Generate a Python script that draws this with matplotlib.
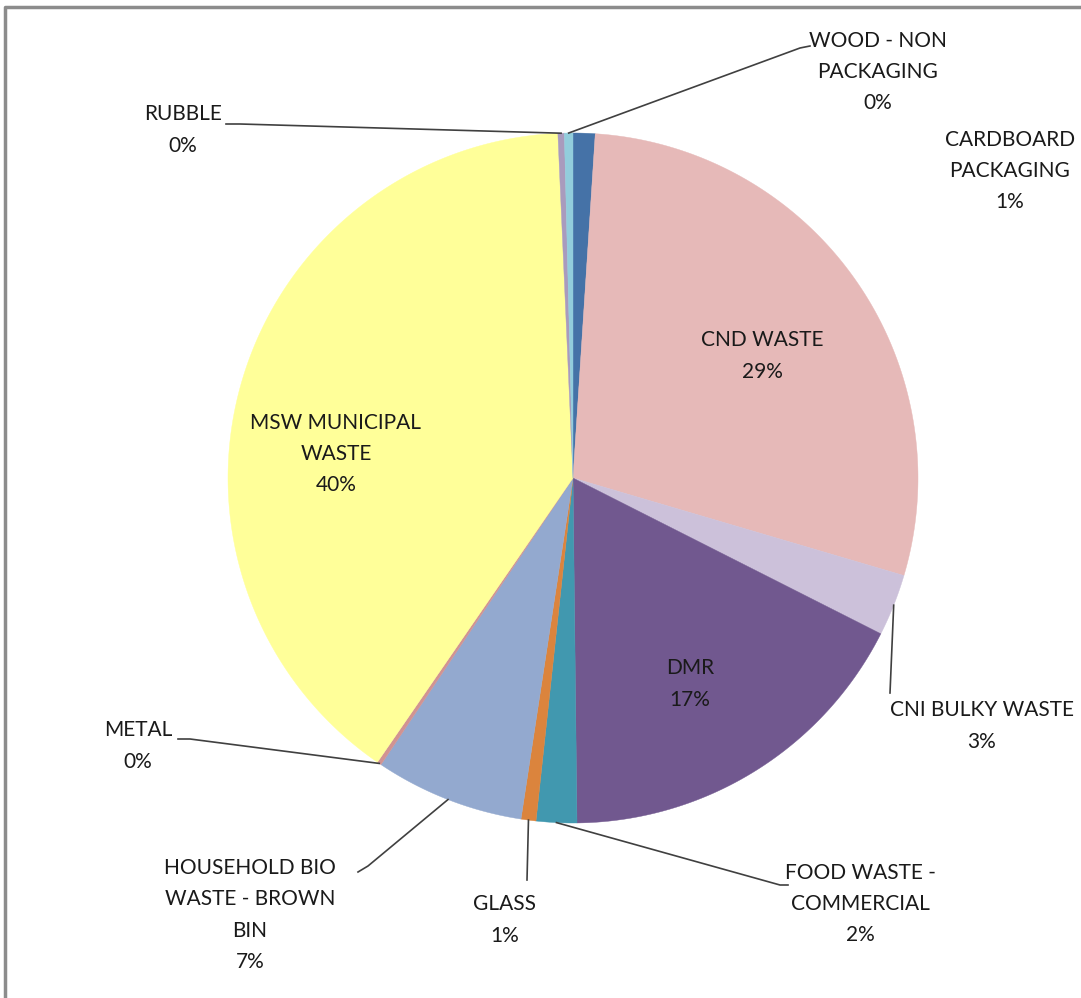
import numpy as np
import matplotlib
matplotlib.use("Agg")
import matplotlib.pyplot as plt

# waste breakdown, share in percent
categories = ["CARDBOARD\nPACKAGING", "CND WASTE", "CNI BULKY WASTE", "DMR",
              "FOOD WASTE -\nCOMMERCIAL", "GLASS", "HOUSEHOLD BIO\nWASTE - BROWN\nBIN",
              "METAL", "MSW MUNICIPAL\nWASTE", "RUBBLE", "WOOD - NON\nPACKAGING"]
shares = [1.03, 28.6, 2.9, 17.4, 1.9, 0.7, 7.0, 0.2, 39.8, 0.3, 0.4]
colors = ["#4572a7", "#e6b9b8", "#ccc1da", "#71588f", "#4198af", "#db843d",
          "#93a9cf", "#d19392", "#ffff99", "#a99bbd", "#92cddc"]

# label centre (px, y from top) and leader-line end near the label (None = no line)
label_pos = [(1010, 171), (762, 356), (982, 726), (690, 684), (860, 904), (505, 920),
             (250, 915), (138, 746), (336, 454), (183, 130), (878, 72)]
leader_end = [None, None, [(890, 693)], None, [(780, 885), (788, 885)], [(527, 880)],
              [(368, 866), (358, 872)], [(190, 739), (178, 739)], None,
              [(240, 124), (226, 124)], [(800, 48), (810, 46)]]

W, H = 1081, 998
fig = plt.figure(figsize=(W / 100, H / 100), dpi=100)
ax = fig.add_axes([0, 0, 1, 1])
ax.set_xlim(0, W)
ax.set_ylim(H, 0)
ax.axis("off")

cx, cy, r = 573, 478, 345
vals = np.array(shares) / sum(shares)
# clockwise from 12 o'clock, y axis points down
start = 0.0
for i, v in enumerate(vals):
    a0, a1 = start * 360, (start + v) * 360
    t = np.radians(np.linspace(a0, a1, max(int(v * 720), 2)))
    xs = np.concatenate([[cx], cx + r * np.sin(t), [cx]])
    ys = np.concatenate([[cy], cy - r * np.cos(t), [cy]])
    ax.fill(xs, ys, color=colors[i], lw=0.3, ec=colors[i], zorder=2)
    mid = np.radians((a0 + a1) / 2)
    ex, ey = cx + r * np.sin(mid), cy - r * np.cos(mid)
    if leader_end[i] is not None:
        px = [ex] + [p[0] for p in leader_end[i]]
        py = [ey] + [p[1] for p in leader_end[i]]
        ax.plot(px, py, color="#404040", lw=1.2, zorder=3)
    lx, ly = label_pos[i]
    ax.text(lx, ly, f"{categories[i]}\n{round(v * 100):.0f}%", ha="center", va="center",
            fontsize=15, family="Lato", color="#1a1a1a", linespacing=1.7, zorder=4)
    start += v

# chart frame (top and left edges visible)
ax.plot([5, 5, W], [H, 7, 7], color="#8c8c8c", lw=2.5, zorder=1)

fig.savefig("out.png", dpi=100)
